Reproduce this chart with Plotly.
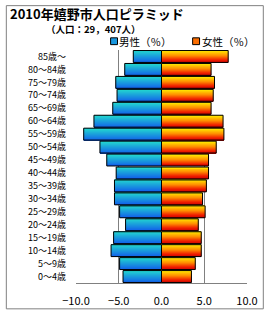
import plotly.graph_objects as go

ages = ["0～4歳", "5～9歳", "10～14歳", "15～19歳", "20～24歳", "25～29歳",
        "30～34歳", "35～39歳", "40～44歳", "45～49歳", "50～54歳", "55～59歳",
        "60～64歳", "65～69歳", "70～74歳", "75～79歳", "80～84歳", "85歳～"]
male = [-4.5, -4.9, -5.9, -5.6, -4.2, -4.9, -5.5, -5.5, -5.3, -6.4, -7.2, -9.1,
        -7.9, -5.7, -5.2, -5.35, -4.3, -3.3]
female = [3.5, 3.95, 4.65, 4.65, 4.3, 5.1, 4.8, 5.25, 5.5, 5.5, 6.4, 7.3,
          7.2, 5.8, 6.05, 6.2, 5.8, 7.8]
x_ticks = [-10, -5, 0, 5, 10]

FONT = "Noto Sans CJK JP"
W, H = 270, 320
L, R, T, B = 76, 21, 50, 31
pw, ph = W - L - R, H - T - B


def lerp(c1, c2, t):
    return "rgb(%d,%d,%d)" % tuple(round(a + (b - a) * t) for a, b in zip(c1, c2))


def grad(stops, t):
    for (p1, c1), (p2, c2) in zip(stops, stops[1:]):
        if p1 <= t <= p2:
            return lerp(c1, c2, (t - p1) / (p2 - p1) if p2 > p1 else 0)
    return lerp(stops[-1][1], stops[-1][1], 0)


male_stops = [(0, (16, 90, 235)), (1, (34, 212, 208))]          # bottom -> top
female_stops = [(0, (200, 0, 0)), (0.25, (240, 30, 0)), (0.6, (255, 140, 0)), (1, (255, 230, 0))]

fig = go.Figure()
N = 12
BW = 0.92
w = BW / N
for vals, stops in ((male, male_stops), (female, female_stops)):
    for i in range(N):
        fig.add_trace(go.Bar(
            y=ages, x=vals, orientation="h", width=w, offset=-BW / 2 + i * w,
            marker=dict(color=grad(stops, (i + 0.5) / N), line=dict(width=0)),
            showlegend=False, hoverinfo="skip"))
    fig.add_trace(go.Bar(
        y=ages, x=vals, orientation="h", width=BW, offset=-BW / 2,
        marker=dict(color="rgba(0,0,0,0)", line=dict(color="black", width=1)),
        showlegend=False, hoverinfo="skip"))

fig.update_layout(
    width=W, height=H, barmode="overlay",
    margin=dict(l=L, r=R, t=T, b=B),
    paper_bgcolor="white", plot_bgcolor="white",
    font=dict(family=FONT, color="black", size=10),
    showlegend=False,
    xaxis=dict(range=[-10, 10], tickvals=x_ticks, tickformat=".1f",
               showgrid=True, gridcolor="#808080", gridwidth=1, zeroline=False,
               showline=True, linecolor="#808080", linewidth=1,
               ticks="", ticklabelstandoff=8, tickfont=dict(size=11, family=FONT),
               fixedrange=True),
    yaxis=dict(categoryorder="array", categoryarray=ages,
               tickmode="array", tickvals=ages, ticktext=ages,
               showgrid=False, zeroline=False, showline=False, ticks="",
               ticklabelstandoff=9, tickfont=dict(size=9, family=FONT),
               fixedrange=True),
)


def px(xp):
    return (xp - L) / pw


def py(yp):
    return (H - B - yp) / ph


fig.add_shape(type="rect", xref="paper", yref="paper",
              x0=px(5.5), x1=px(265.5), y0=py(315.5), y1=py(4.5),
              line=dict(color="#808080", width=1), fillcolor="rgba(0,0,0,0)", layer="below")

fig.add_annotation(xref="paper", yref="paper", x=px(7), y=py(12.5), xanchor="left", yanchor="middle",
                   text="<b>2010年嬉野市人口ピラミッド</b>", showarrow=False,
                   font=dict(size=13, family=FONT, color="black"))
fig.add_annotation(xref="paper", yref="paper", x=px(94), y=py(28.5), xanchor="center", yanchor="middle",
                   text="<b>（人口：29，407人）</b>", showarrow=False,
                   font=dict(size=9.5, family=FONT, color="black"))

for sx, tx, name, stops in ((111, 117, "男性（％）", male_stops), (194, 201, "女性（％）", female_stops)):
    fig.add_shape(type="rect", xref="paper", yref="paper",
                  x0=px(sx), x1=px(sx + 7), y0=py(44.5), y1=py(37.5),
                  line=dict(color="black", width=1), fillcolor=grad(stops, 0.5))
    fig.add_annotation(xref="paper", yref="paper", x=px(tx), y=py(41), xanchor="left", yanchor="middle",
                       text=name, showarrow=False, font=dict(size=10.5, family=FONT, color="black"))

fig.write_html("out.html")
